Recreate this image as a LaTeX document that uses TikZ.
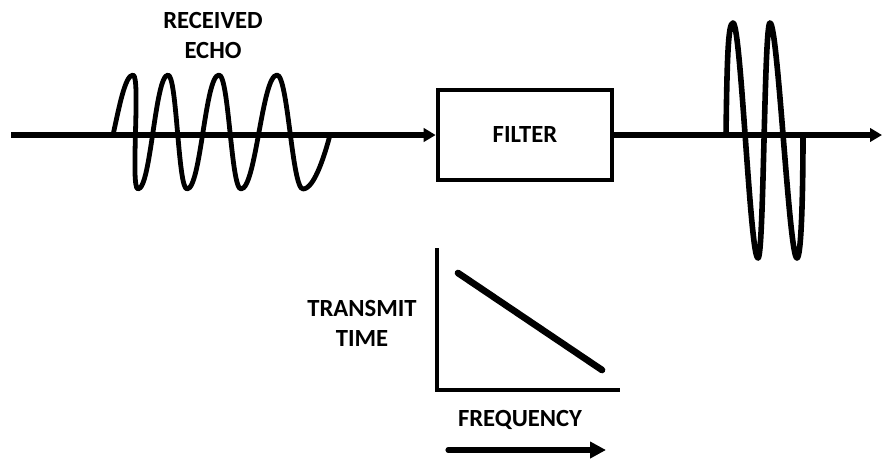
\documentclass[tikz,border=0pt]{standalone}
\usepackage{fontspec}
\setmainfont{Carlito}
\usetikzlibrary{arrows.meta}

\tikzset{
  lbl/.style={inner sep=0.75pt, align=center, font=\fontsize{18.5}{22.5}\selectfont\bfseries},
  sigline/.style={line width=3.8pt},
  wave/.style={line width=3.6pt, line join=round},
  tip/.style={-{Triangle[length=9pt,width=10pt]}}
}

\begin{document}
\begin{tikzpicture}[x=0.75pt,y=0.75pt,yscale=-1,xscale=1]
\useasboundingbox (0,0) rectangle (882,458);

%Shape: Rectangle [id:filter]
\node [draw, line width=3pt, minimum width=131pt, minimum height=67.5pt, lbl] (filter) at (525,134.5) {FILTER};
\coordinate (src) at (11,135);
\coordinate (sink) at (882,135);

%Straight Lines [id:input]
\draw [sigline, tip] (src) -- (filter.west |- src);
%Straight Lines [id:output]
\draw [sigline, tip] (filter.east |- sink) -- (sink);

%Curve Lines [id:echo]
\draw [wave] (113,135) .. controls (119,108) and (125,75) .. (133,75)
  .. controls (141,75) and (130,189) .. (138,189)
  .. controls (151,189) and (155,75) .. (168,75)
  .. controls (177,75) and (178,189) .. (187,189)
  .. controls (201,189) and (205,75) .. (219,75)
  .. controls (229,75) and (231,189) .. (241,189)
  .. controls (256,189) and (262,75) .. (277,75)
  .. controls (288,75) and (292,189) .. (303,189)
  .. controls (315,189) and (326,150) .. (330,135) ;

%Curve Lines [id:pulse]
\draw [wave, line width=4.2pt] (726,135) .. controls (727,60) and (728,23) .. (733,23)
  .. controls (741,23) and (750,258) .. (758,258)
  .. controls (764,258) and (764,23) .. (770,23)
  .. controls (778,23) and (789,258) .. (797,258)
  .. controls (801,258) and (803,200) .. (803,135) ;

% Text Node
\node [lbl] (echo) at (213,35) {RECEIVED\\ECHO};

%Straight Lines [id:axes]
\coordinate (top) at (437,248);
\coordinate (orig) at (437,390);
\coordinate (right) at (620,390);
\draw [line width=2.6pt] (top) -- (orig) -- (right);
%Straight Lines [id:slope]
\coordinate (hi) at (458,273);
\coordinate (lo) at (602,370);
\draw [line width=5pt, line cap=round] (hi) -- (lo);

% Text Node
\node [lbl] (ttime) at (362,323) {TRANSMIT\\TIME};
% Text Node
\node [lbl] (freq) at (520,420) {FREQUENCY};

%Straight Lines [id:freqarrow]
\coordinate (fa) at (448,450);
\coordinate (fb) at (606,450);
\draw [line width=3.8pt, line cap=round, -{Triangle[length=12pt,width=12pt]}] (fa) -- (fb);

\end{tikzpicture}
\end{document}
